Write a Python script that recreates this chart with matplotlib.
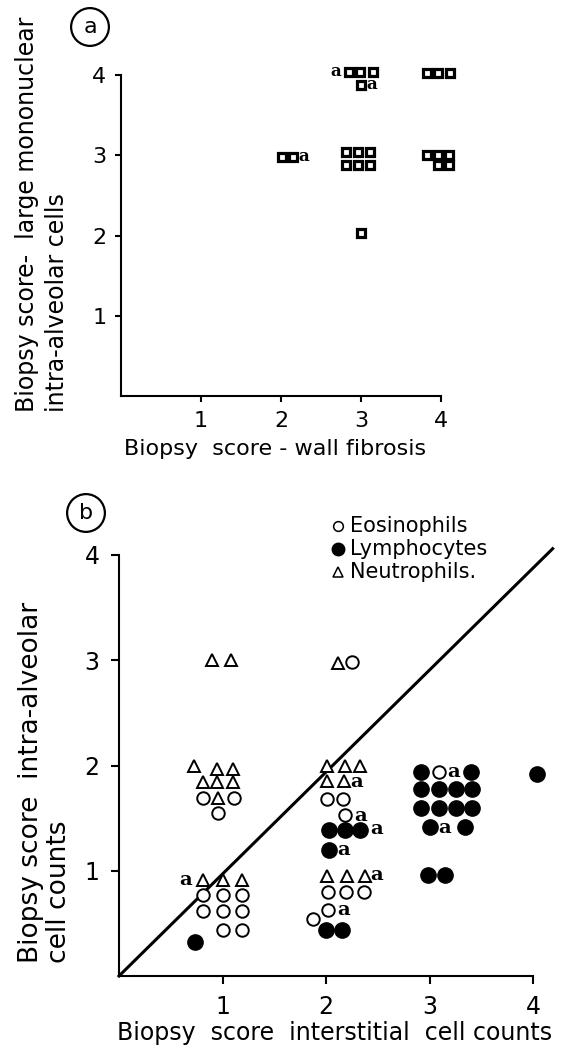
import numpy as np
import matplotlib
matplotlib.use("Agg")
import matplotlib.pyplot as plt

plt.rcParams['font.family'] = ['DejaVu Sans']

# panel (a): wall fibrosis vs large mononuclear cells
sq_x = [2.01, 2.15, 2.85, 2.99, 3.15, 3.0, 2.81, 2.96, 3.11, 2.81, 2.96, 3.11, 3.0,
        3.83, 3.96, 4.11, 3.83, 3.96, 4.10, 3.96, 4.10]
sq_y = [2.98, 2.98, 4.04, 4.04, 4.04, 3.88, 3.04, 3.04, 3.04, 2.88, 2.88, 2.88, 2.03,
        4.02, 4.02, 4.02, 3.0, 3.0, 3.0, 2.88, 2.88]
a_note_x = [2.69, 3.13, 2.29]
a_note_y = [4.04, 3.88, 2.98]

# panel (b): interstitial vs intra-alveolar cell counts
eos_x = [0.81, 1.11, 0.96, 0.81, 1.0, 1.19, 0.81, 1.0, 1.19, 1.0, 1.19,
         2.25, 2.01, 2.16, 2.18, 2.02, 2.19, 2.37, 2.02, 1.87, 3.09]
eos_y = [1.69, 1.69, 1.55, 0.77, 0.77, 0.77, 0.62, 0.62, 0.62, 0.44, 0.44,
         2.98, 1.68, 1.68, 1.53, 0.80, 0.80, 0.80, 0.63, 0.54, 1.94]
lym_x = [0.73, 2.03, 2.18, 2.33, 2.03, 2.0, 2.15,
         2.92, 3.40, 2.92, 3.09, 3.26, 3.41, 2.92, 3.09, 3.26, 3.41,
         3.0, 3.34, 2.99, 3.15, 4.04]
lym_y = [0.32, 1.39, 1.39, 1.39, 1.20, 0.44, 0.44,
         1.94, 1.94, 1.78, 1.78, 1.78, 1.78, 1.60, 1.60, 1.60, 1.60,
         1.42, 1.42, 0.96, 0.96, 1.92]
neu_x = [0.90, 1.08, 0.72, 0.95, 1.10, 0.81, 0.95, 1.10, 0.96, 0.81, 1.0, 1.19,
         2.12, 2.01, 2.18, 2.33, 2.01, 2.17, 2.01, 2.20, 2.38]
neu_y = [3.0, 3.0, 2.0, 1.97, 1.97, 1.84, 1.84, 1.84, 1.69, 0.91, 0.91, 0.91,
         2.97, 2.0, 2.0, 2.0, 1.85, 1.85, 0.95, 0.95, 0.95]
b_note_x = [0.64, 2.30, 2.33, 2.49, 2.17, 2.49, 2.17, 3.23, 3.15]
b_note_y = [0.91, 1.84, 1.52, 1.40, 1.20, 0.96, 0.63, 1.94, 1.41]
line_x = [0, 4.19]
line_y = [0, 4.06]
legend_labels = ['Eosinophils', 'Lymphocytes', 'Neutrophils.']

W, H = 564, 1048
fig = plt.figure(figsize=(W / 100, H / 100), dpi=100)


def fx(px):
    return px / W


def fy(py):
    return 1 - py / H


def style_axes(ax, size, pad, length):
    ax.set_xlim(0, 4)
    ax.set_ylim(0, 4)
    ax.set_xticks([1, 2, 3, 4])
    ax.set_yticks([1, 2, 3, 4])
    for s in ['top', 'right']:
        ax.spines[s].set_visible(False)
    for s in ['left', 'bottom']:
        ax.spines[s].set_linewidth(1.5)
    ax.tick_params(direction='out', width=1.5, length=length, labelsize=size, pad=pad)
    ax.patch.set_alpha(0)


# ---- panel a
ax1 = fig.add_axes([fx(121), fy(396), 320 / W, 321 / H])
style_axes(ax1, 16, 6, 4.5)
ax1.plot(sq_x, sq_y, 's', ms=6, mfc='white', mec='black', mew=2.3, clip_on=False)
for x, y in zip(a_note_x, a_note_y):
    ax1.text(x, y, 'a', family='DejaVu Serif', weight='bold', fontsize=12,
             ha='center', va='center')

fig.text(fx(27), fy(412), 'Biopsy score-  large mononuclear', rotation=90,
         ha='center', va='bottom', fontsize=17)
fig.text(fx(57), fy(412), 'intra-alveolar cells', rotation=90,
         ha='center', va='bottom', fontsize=17)
fig.text(fx(275), fy(449), 'Biopsy  score - wall fibrosis', ha='center', va='center',
         fontsize=16)
fig.text(fx(90), fy(27), 'a', ha='center', va='center', fontsize=16,
         bbox=dict(boxstyle='circle,pad=0.4', fc='white', ec='black', lw=1.6))

# ---- panel b
ax2 = fig.add_axes([fx(119), fy(976), 414 / W, 421 / H])
style_axes(ax2, 17, 8, 6)
ax2.plot(line_x, line_y, '-', color='black', lw=2.2, clip_on=False, zorder=1)
ax2.plot(eos_x, eos_y, 'o', ms=9, mfc='white', mec='black', mew=1.4, clip_on=False, zorder=3)
ax2.plot(lym_x, lym_y, 'o', ms=11, mfc='black', mec='black', mew=1, clip_on=False, zorder=3)
ax2.plot(neu_x, neu_y, '^', ms=8, mfc='white', mec='black', mew=1.4, clip_on=False, zorder=3)
for x, y in zip(b_note_x, b_note_y):
    ax2.text(x, y, 'a', family='DejaVu Serif', weight='bold', fontsize=14,
             ha='center', va='center')

# legend drawn by hand: marker + label rows
leg_styles = [dict(marker='o', ms=7, mfc='white', mec='black', mew=1.1),
              dict(marker='o', ms=9, mfc='black', mec='black', mew=1),
              dict(marker='^', ms=7, mfc='white', mec='black', mew=1.1)]
for i, (lab, st) in enumerate(zip(legend_labels, leg_styles)):
    row_y = fy(526 + 23 * i)
    fig.add_artist(plt.Line2D([fx(338)], [row_y], ls='', transform=fig.transFigure, **st))
    fig.text(fx(350), row_y, lab, ha='left', va='center', fontsize=15)

fig.text(fx(31), fy(963), 'Biopsy score  intra-alveolar', rotation=90,
         ha='center', va='bottom', fontsize=19)
fig.text(fx(59), fy(963), 'cell counts', rotation=90,
         ha='center', va='bottom', fontsize=19)
fig.text(fx(335), fy(1033), 'Biopsy  score  interstitial  cell counts',
         ha='center', va='center', fontsize=17)
fig.text(fx(86), fy(513), 'b', ha='center', va='center', fontsize=16,
         bbox=dict(boxstyle='circle,pad=0.4', fc='white', ec='black', lw=1.6))

fig.savefig('out.png', dpi=100)
